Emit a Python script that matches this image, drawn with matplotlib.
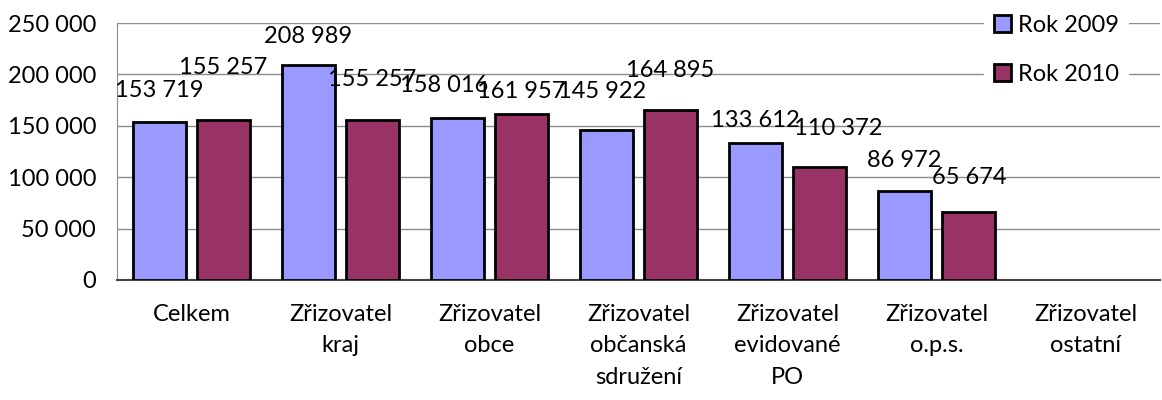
import numpy as np
import matplotlib
matplotlib.use('Agg')
import matplotlib.pyplot as plt

plt.rcParams['font.family'] = ['Lato', 'DejaVu Sans']

# data
categories = ['Celkem', 'Zřizovatel\nkraj', 'Zřizovatel\nobce',
              'Zřizovatel\nobčanská\nsdružení', 'Zřizovatel\nevidované\nPO',
              'Zřizovatel\no.p.s.', 'Zřizovatel\nostatní']
rok_2009 = [153719, 208989, 158016, 145922, 133612, 86972, None]
rok_2010 = [155257, 155257, 161957, 164895, 110372, 65674, None]
yticks = [0, 50000, 100000, 150000, 200000, 250000]

# hand-placed label offsets in the original (pixels from bar top centre)
lab_2009 = [(0, 31), (0, 29), (-13, 32), (-4, 38), (0, 22), (0, 30)]
lab_2010 = [(0, 53), (0, 41), (0, 22), (0, 40), (19, 38), (1, 35)]


def fmt(v):
    return f'{v:,.0f}'.replace(',', ' ')


fig = plt.figure(figsize=(11.62, 4.0), dpi=100)
ax = fig.add_axes([0.1007, 0.30, 0.8975, 0.6425])

x = np.arange(len(categories))
w = 0.36
off = 0.215
fs = 17

series = [(rok_2009, '#9999FF', 'Rok 2009', -off, lab_2009),
          (rok_2010, '#993366', 'Rok 2010', off, lab_2010)]
for vals, col, lab, dx, offs in series:
    xs = [xi + dx for xi, v in zip(x, vals) if v is not None]
    vs = [v for v in vals if v is not None]
    ax.bar(xs, vs, width=w, color=col, edgecolor='black', linewidth=2,
           label=lab, zorder=3)
    for xi, v, o in zip(xs, vs, offs):
        ax.annotate(fmt(v), (xi, v), xytext=o, textcoords='offset pixels',
                    ha='center', va='center', fontsize=fs, zorder=4)

ax.set_xlim(-0.5, len(categories) - 0.5)
ax.set_ylim(0, 250000)
ax.set_yticks(yticks)
ax.set_yticklabels([fmt(t) for t in yticks], fontsize=fs)
ax.set_xticks(x)
ax.set_xticklabels(categories, fontsize=fs, linespacing=1.62, va='top')
ax.tick_params(axis='both', length=0)
ax.tick_params(axis='y', pad=15)
ax.tick_params(axis='x', pad=17)

ax.yaxis.grid(True, color='#8c8c8c', linewidth=1, zorder=0)
ax.set_axisbelow(True)
for s in ['top', 'right']:
    ax.spines[s].set_visible(False)
ax.spines['left'].set_color('#8c8c8c')
ax.spines['bottom'].set_color('#444444')
ax.spines['bottom'].set_linewidth(1.5)

leg = ax.legend(loc='upper right', bbox_to_anchor=(0.981, 1.115), fontsize=fs,
                frameon=True, fancybox=False, edgecolor='white', framealpha=1,
                handlelength=0.72, handleheight=0.72, handletextpad=0.3,
                labelspacing=1.2, borderpad=0.4)
leg.set_zorder(5)

fig.savefig('out.png', dpi=100)
